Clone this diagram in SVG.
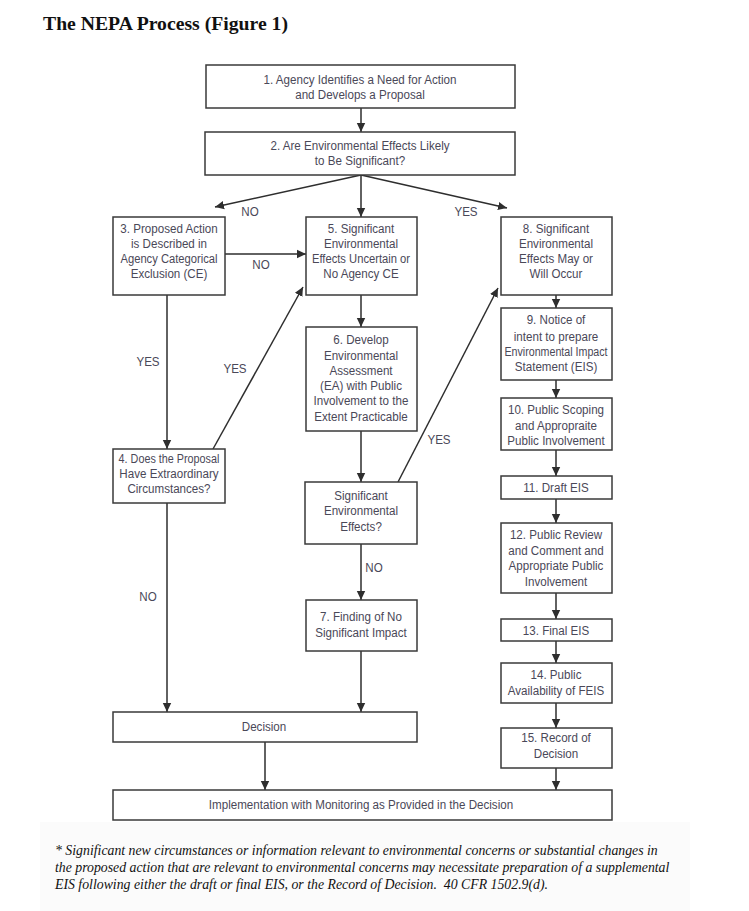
<svg xmlns="http://www.w3.org/2000/svg" width="749" height="911" viewBox="0 0 749 911">
<style>
.box{fill:#fff;stroke:#3a3a3a;stroke-width:1.5}
.t{font-family:"Liberation Sans",Arial,sans-serif;font-size:13.5px;fill:#4a4858;text-anchor:middle}
.c{stroke:#2e2e2e;stroke-width:1.5;fill:none;marker-end:url(#ah)}
.fn{font-family:"Liberation Serif",serif;font-style:italic;font-size:13.8px;fill:#111}
</style>
<defs>
<marker id="ah" markerUnits="userSpaceOnUse" markerWidth="10" markerHeight="10" viewBox="0 0 10 10" refX="9" refY="5" orient="auto">
<path d="M0,0.8 L9,5 L0,9.2 Z" fill="#2e2e2e"/>
</marker>
</defs>
<rect x="0" y="0" width="749" height="911" fill="#fff"/>
<text x="43" y="30" font-family="Liberation Serif,serif" font-weight="bold" font-size="19.7" fill="#111">The NEPA Process (Figure 1)</text>

<g id="connectors">
<line class="c" x1="361" y1="108" x2="361" y2="132"/>
<line class="c" x1="361" y1="175" x2="215" y2="207"/>
<line class="c" x1="361" y1="175" x2="361" y2="217"/>
<line class="c" x1="361" y1="175" x2="507" y2="208"/>
<line class="c" x1="225" y1="254" x2="306" y2="254"/>
<line class="c" x1="167" y1="295" x2="167" y2="449"/>
<line class="c" x1="213" y1="449" x2="303" y2="287"/>
<line class="c" x1="361" y1="295" x2="361" y2="327"/>
<line class="c" x1="361" y1="431" x2="361" y2="482"/>
<line class="c" x1="398" y1="482" x2="498" y2="288"/>
<line class="c" x1="361" y1="544" x2="361" y2="600"/>
<line class="c" x1="361" y1="651" x2="361" y2="712"/>
<line class="c" x1="167" y1="503" x2="167" y2="712"/>
<line class="c" x1="265" y1="742" x2="265" y2="790"/>
<line class="c" x1="556" y1="295" x2="556" y2="308"/>
<line class="c" x1="556" y1="380" x2="556" y2="398"/>
<line class="c" x1="556" y1="450" x2="556" y2="476"/>
<line class="c" x1="556" y1="499" x2="556" y2="523"/>
<line class="c" x1="556" y1="593" x2="556" y2="619"/>
<line class="c" x1="556" y1="641" x2="556" y2="663"/>
<line class="c" x1="556" y1="703" x2="556" y2="728"/>
<line class="c" x1="556" y1="768" x2="556" y2="790"/>
<g transform="translate(250,0) scale(0.86,1)"><text class="t" x="0" y="216">NO</text></g>
<g transform="translate(466,0) scale(0.86,1)"><text class="t" x="0" y="216">YES</text></g>
<g transform="translate(261,0) scale(0.86,1)"><text class="t" x="0" y="269">NO</text></g>
<g transform="translate(148,0) scale(0.86,1)"><text class="t" x="0" y="366">YES</text></g>
<g transform="translate(235,0) scale(0.86,1)"><text class="t" x="0" y="373">YES</text></g>
<g transform="translate(439,0) scale(0.86,1)"><text class="t" x="0" y="444">YES</text></g>
<g transform="translate(374,0) scale(0.86,1)"><text class="t" x="0" y="572">NO</text></g>
<g transform="translate(148,0) scale(0.86,1)"><text class="t" x="0" y="601">NO</text></g>
</g>

<g id="n1"><rect class="box" x="206" y="65" width="309" height="43"/>
<g transform="translate(360,0) scale(0.86,1)">
<text class="t" x="0" y="84">1. Agency Identifies a Need for Action</text>
<text class="t" x="0" y="99">and Develops a Proposal</text></g></g>

<g id="n2"><rect class="box" x="205" y="132" width="310" height="43"/>
<g transform="translate(360,0) scale(0.86,1)">
<text class="t" x="0" y="150">2. Are Environmental Effects Likely</text>
<text class="t" x="0" y="165">to Be Significant?</text></g></g>

<g id="n3"><rect class="box" x="113" y="217" width="112" height="78"/>
<g transform="translate(169,0) scale(0.86,1)">
<text class="t" x="0" y="233">3. Proposed Action</text>
<text class="t" x="0" y="248">is Described in</text></g>
<g transform="translate(169,0) scale(0.83,1)">
<text class="t" x="0" y="263">Agency Categorical</text></g>
<g transform="translate(169,0) scale(0.86,1)">
<text class="t" x="0" y="278">Exclusion (CE)</text></g></g>

<g id="n5"><rect class="box" x="306" y="217" width="111" height="78"/>
<g transform="translate(361,0) scale(0.86,1)">
<text class="t" x="0" y="233">5. Significant</text>
<text class="t" x="0" y="248">Environmental</text></g>
<g transform="translate(361,0) scale(0.83,1)">
<text class="t" x="0" y="263">Effects Uncertain or</text></g>
<g transform="translate(361,0) scale(0.86,1)">
<text class="t" x="0" y="278">No Agency CE</text></g></g>

<g id="n8"><rect class="box" x="501" y="217" width="111" height="78"/>
<g transform="translate(556,0) scale(0.86,1)">
<text class="t" x="0" y="233">8. Significant</text>
<text class="t" x="0" y="248">Environmental</text>
<text class="t" x="0" y="263">Effects May or</text>
<text class="t" x="0" y="278">Will Occur</text></g></g>

<g id="n4"><rect class="box" x="113" y="449" width="112" height="54"/>
<g transform="translate(169,0) scale(0.8,1)">
<text class="t" x="0" y="463">4. Does the Proposal</text></g>
<g transform="translate(169,0) scale(0.86,1)">
<text class="t" x="0" y="478">Have Extraordinary</text>
<text class="t" x="0" y="493">Circumstances?</text></g></g>

<g id="n6"><rect class="box" x="306" y="327" width="111" height="104"/>
<g transform="translate(361,0) scale(0.86,1)">
<text class="t" x="0" y="344">6. Develop</text>
<text class="t" x="0" y="360">Environmental</text>
<text class="t" x="0" y="375">Assessment</text>
<text class="t" x="0" y="390">(EA) with Public</text>
<text class="t" x="0" y="405">Involvement to the</text>
<text class="t" x="0" y="421">Extent Practicable</text></g></g>

<g id="nsig"><rect class="box" x="305" y="482" width="112" height="62"/>
<g transform="translate(361,0) scale(0.86,1)">
<text class="t" x="0" y="500">Significant</text>
<text class="t" x="0" y="515">Environmental</text>
<text class="t" x="0" y="531">Effects?</text></g></g>

<g id="n7"><rect class="box" x="306" y="600" width="111" height="51"/>
<g transform="translate(361,0) scale(0.86,1)">
<text class="t" x="0" y="621">7. Finding of No</text>
<text class="t" x="0" y="637">Significant Impact</text></g></g>

<g id="ndecision"><rect class="box" x="113" y="712" width="304" height="30"/>
<g transform="translate(264,0) scale(0.86,1)">
<text class="t" x="0" y="731">Decision</text></g></g>

<g id="nimpl"><rect class="box" x="113" y="790" width="499" height="30"/>
<g transform="translate(361,0) scale(0.86,1)">
<text class="t" x="0" y="809">Implementation with Monitoring as Provided in the Decision</text></g></g>

<g id="n9"><rect class="box" x="501" y="308" width="111" height="72"/>
<g transform="translate(556,0) scale(0.86,1)">
<text class="t" x="0" y="324">9. Notice of</text>
<text class="t" x="0" y="341">intent to prepare</text></g>
<g transform="translate(556,0) scale(0.79,1)">
<text class="t" x="0" y="356">Environmental Impact</text></g>
<g transform="translate(556,0) scale(0.86,1)">
<text class="t" x="0" y="371">Statement (EIS)</text></g></g>

<g id="n10"><rect class="box" x="501" y="398" width="111" height="52"/>
<g transform="translate(556,0) scale(0.86,1)">
<text class="t" x="0" y="414">10. Public Scoping</text>
<text class="t" x="0" y="430">and Appropraite</text>
<text class="t" x="0" y="445">Public Involvement</text></g></g>

<g id="n11"><rect class="box" x="501" y="476" width="111" height="23"/>
<g transform="translate(556,0) scale(0.86,1)">
<text class="t" x="0" y="492">11. Draft EIS</text></g></g>

<g id="n12"><rect class="box" x="501" y="523" width="111" height="70"/>
<g transform="translate(556,0) scale(0.86,1)">
<text class="t" x="0" y="539">12. Public Review</text>
<text class="t" x="0" y="555">and Comment and</text>
<text class="t" x="0" y="570">Appropriate Public</text>
<text class="t" x="0" y="586">Involvement</text></g></g>

<g id="n13"><rect class="box" x="501" y="619" width="111" height="22"/>
<g transform="translate(556,0) scale(0.86,1)">
<text class="t" x="0" y="635">13. Final EIS</text></g></g>

<g id="n14"><rect class="box" x="501" y="663" width="111" height="40"/>
<g transform="translate(556,0) scale(0.86,1)">
<text class="t" x="0" y="679">14. Public</text>
<text class="t" x="0" y="695">Availability of FEIS</text></g></g>

<g id="n15"><rect class="box" x="501" y="728" width="111" height="40"/>
<g transform="translate(556,0) scale(0.86,1)">
<text class="t" x="0" y="742">15. Record of</text>
<text class="t" x="0" y="758">Decision</text></g></g>

<rect x="40" y="822" width="650" height="89" fill="#fbfbfb"/>
<text class="fn" x="55" y="855">* Significant new circumstances or information relevant to environmental concerns or substantial changes in</text>
<text class="fn" x="55" y="872">the proposed action that are relevant to environmental concerns may necessitate preparation of a supplemental</text>
<text class="fn" x="55" y="889">EIS following either the draft or final EIS, or the Record of Decision.&#160; 40 CFR 1502.9(d).</text>
</svg>
